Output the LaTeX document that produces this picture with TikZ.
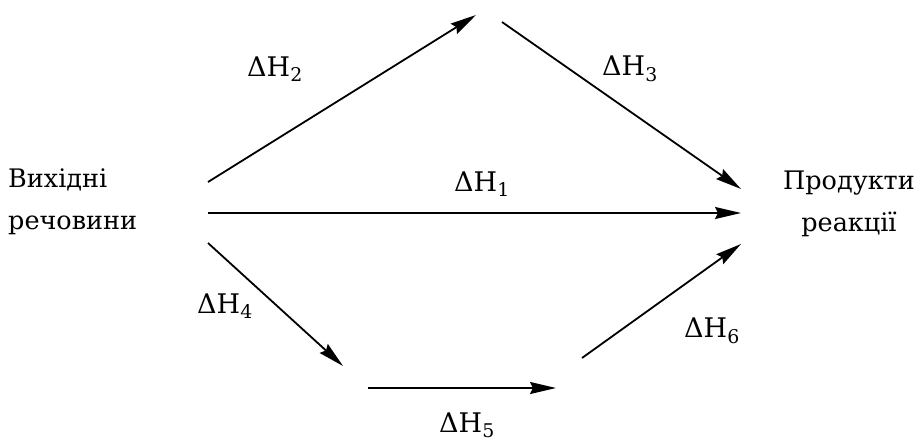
\documentclass[tikz,border=0pt]{standalone}
\usepackage{fontspec}
\setmainfont{DejaVu Serif}
\usetikzlibrary{arrows.meta}
\begin{document}
\begin{tikzpicture}[x=1pt,y=-1pt,
  arr/.style={line width=1.8pt,-{Stealth[length=26pt,width=12pt,inset=3pt]}},
  lbl/.style={font=\fontsize{27}{36}\selectfont, inner sep=0pt},
  txt/.style={font=\fontsize{25.5}{42}\selectfont, inner sep=0pt}]
\useasboundingbox (0,0) rectangle (917,444);
% endpoints
\coordinate (a2s) at (208,182); \coordinate (a2e) at (476,15);
\coordinate (a3s) at (502,22);  \coordinate (a3e) at (741,189);
\coordinate (a1s) at (208,213); \coordinate (a1e) at (741,213);
\coordinate (a4s) at (208,243); \coordinate (a4e) at (343,366);
\coordinate (a5s) at (368,388); \coordinate (a5e) at (556,388);
\coordinate (a6s) at (582,358); \coordinate (a6e) at (741,244);
\draw[arr] (a2s) -- (a2e);
\draw[arr] (a3s) -- (a3e);
\draw[arr] (a1s) -- (a1e);
\draw[arr] (a4s) -- (a4e);
\draw[arr] (a5s) -- (a5e);
\draw[arr] (a6s) -- (a6e);
\node[txt, align=left, anchor=west] (src) at (8,202) {Вихідні\\речовини};
\node[txt, align=center] (dst) at (849,204) {Продукти\\реакції};
\node[lbl] (h1) at (482,184) {ΔH\textsubscript{1}};
\node[lbl] (h2) at (275,69) {ΔH\textsubscript{2}};
\node[lbl] (h3) at (630,69) {ΔH\textsubscript{3}};
\node[lbl] (h4) at (225,306) {ΔH\textsubscript{4}};
\node[lbl] (h5) at (467,425) {ΔH\textsubscript{5}};
\node[lbl] (h6) at (712,331) {ΔH\textsubscript{6}};
\end{tikzpicture}
\end{document}
